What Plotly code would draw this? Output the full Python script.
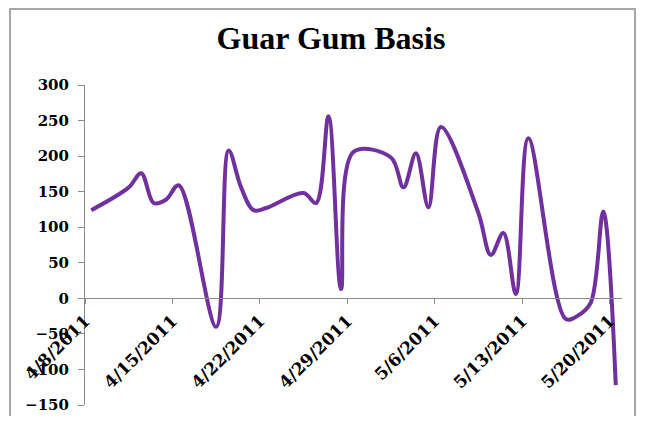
import pandas as pd
import plotly.graph_objects as go

# Trading days and basis values
dates = [
    "2011-04-08",
    "2011-04-11", "2011-04-12", "2011-04-13", "2011-04-14", "2011-04-15",
    "2011-04-18", "2011-04-19", "2011-04-20", "2011-04-21", "2011-04-22",
    "2011-04-25", "2011-04-26", "2011-04-27", "2011-04-28", "2011-04-29",
    "2011-05-02", "2011-05-03", "2011-05-04", "2011-05-05", "2011-05-06",
    "2011-05-09", "2011-05-10", "2011-05-11", "2011-05-12", "2011-05-13",
    "2011-05-16", "2011-05-17", "2011-05-18", "2011-05-19", "2011-05-20",
]
basis = [
    124,
    156, 176, 134, 139, 159,
    -40, 208, 156, 124, 127,
    148, 134, 256, 13, 206,
    198, 156, 204, 128, 241,
    120, 61, 92, 6, 225,
    -29, -24, -6, 122, -122,
]

title = "Guar Gum Basis"
tick_font = "DejaVu Serif"
title_font = "Liberation Serif"

# Excel date axis draws each point in the middle of its day
x = pd.to_datetime(dates) + pd.Timedelta(hours=12)

fig = go.Figure()

fig.add_trace(go.Scatter(
    x=x,
    y=basis,
    mode="lines",
    line=dict(color="#7030A0", width=4, shape="spline", smoothing=1.0),
    showlegend=False,
))

# The page body adds an 8px margin, so the figure is kept 16px smaller
# and its coords are the screen coords minus 8.
# Plot area (figure px): x 77..614, y 77..397
fig.update_xaxes(
    type="date",
    range=["2011-04-08", "2011-05-21"],
    tick0="2011-04-08",
    dtick=7 * 86400000,
    tickformat="%-m/%-d/%Y",
    tickangle=-45,
    ticks="outside",
    ticklen=5,
    tickcolor="#8c8c8c",
    showline=True,
    linecolor="#8c8c8c",
    linewidth=1,
    showgrid=False,
    zeroline=False,
    anchor="free",
    position=1 / 3,  # y = 0 within [-150, 300]
    automargin=False,
    tickfont=dict(family=tick_font, size=17, color="black", weight="bold"),
)

fig.update_yaxes(
    range=[-150, 300],
    dtick=50,
    ticks="outside",
    ticklen=6,
    tickcolor="#8c8c8c",
    showline=True,
    linecolor="#8c8c8c",
    linewidth=1,
    showgrid=False,
    zeroline=False,
    automargin=False,
    ticklabelstandoff=6,
    tickfont=dict(family=tick_font, size=15, color="black", weight="bold"),
)

# Chart border like the spreadsheet frame
fig.add_shape(
    type="rect",
    xref="paper", yref="paper",
    x0=(2 - 77) / 537, x1=(627 - 77) / 537,
    y0=(397 - 430) / 320, y1=(397 - 1) / 320,
    line=dict(color="#a6a6a6", width=2),
    fillcolor="rgba(0,0,0,0)",
    layer="below",
)

fig.update_layout(
    width=629,
    height=408,
    margin=dict(l=77, r=15, t=77, b=11),
    paper_bgcolor="white",
    plot_bgcolor="white",
    title=dict(
        text=title,
        xref="container", yref="container",
        x=323 / 629, y=1 - 30 / 408,
        xanchor="center", yanchor="middle",
        automargin=False,
        font=dict(family=title_font, size=32, color="black", weight="bold"),
    ),
)

fig.write_html("out.html")
